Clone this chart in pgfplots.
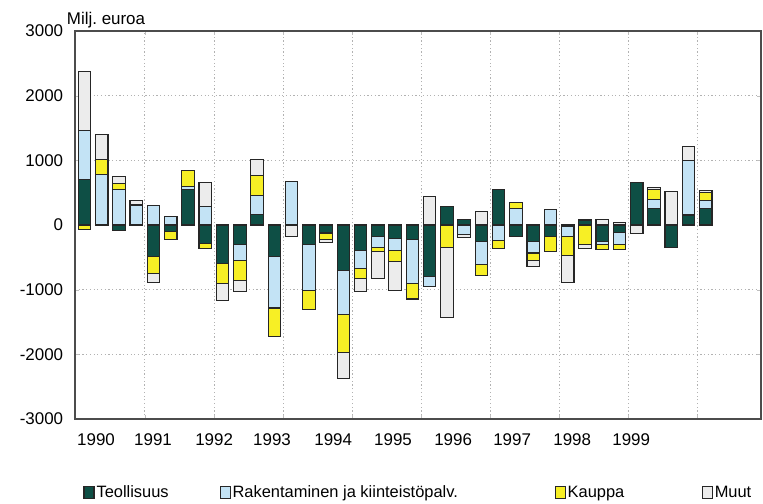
\documentclass[border=0pt]{standalone}
\usepackage{pgfplots}
\pgfplotsset{compat=1.18}
\usepackage{pgfplotstable}
\usepackage{fontspec}
\setmainfont{Liberation Sans}

\definecolor{TeolColor}{HTML}{0E4F45}
\definecolor{RakColor}{HTML}{C3E3F5}
\definecolor{KauColor}{HTML}{F7EF25}
\definecolor{MuutColor}{HTML}{ECECEC}

% quarterly change, 1990Q1 .. 1999Q1 (milj. euroa)
\pgfplotstableread{
q  T    R    K    M
0  700  760  -65  910
1  0    775  240  385
2  -85  555  85   105
3  0    310  0    65
4  -487 308  -257 -143
5  -100 130  -130 0
6  554  46   246  0
7  -292 282  -78  375
8  -590 0    -318 -257
9  -298 -256 -308 -164
10 169  293  308  241
11 -487 -796 -436 0
12 0    677  0    -180
13 -298 -718 -292 0
14 -110 -20  -100 -40
15 -708 -677 -590 -395
16 -400 -267 -154 -205
17 -180 -169 -61  -411
18 -205 -190 -169 -452
19 -231 -667 -246 0
20 -795 -154 0    436
21 292  0    -344 -1092
22 90   -150 0    -50
23 -256 -360 -169 205
24 550  -240 -120 0
25 -173 250  100  0
26 -253 -180 -114 -93
27 -180 240  -232 0
28 -30  -150 -290 -420
29 77   0    -308 -60
30 -250 -50  -80  90
31 -120 -180 -80  40
32 657  0    0    -125
33 250  145  160  30
34 -349 0    0    513
35 155  845  0    220
36 250  129  120  41
}\quarters

\pgfplotsset{
  common/.style={
    scale only axis, width=686bp, height=388bp,
    at={(75bp,85bp)}, anchor=south west,
    xmin=-0.55, xmax=39.2, ymin=-3000, ymax=3000,
  },
  bars/.style={
    ybar stacked, bar width=12.5bp,
    every axis plot/.append style={draw=black!85, line width=1.1bp},
  },
}

\begin{document}
\frenchspacing
\fontsize{17}{20}\selectfont
\begin{tikzpicture}
\path[use as bounding box] (0,0) rectangle (763bp,504bp);

% dotted grid only
\begin{axis}[common,
    axis line style={draw=none},
    xtick={3.5,7.5,...,35.5}, ytick={-2000,-1000,1000,2000},
    xticklabels={}, yticklabels={},
    grid=major,
    tick style={gray!50},
    major grid style={gray!60, line width=0.8bp, dash pattern=on 1.2bp off 2.5bp},
  ]
  \addplot[draw=none, mark=none] coordinates {(0,0) (1,0)};
\end{axis}

% positive parts, frame, labels
\begin{axis}[common, bars, clip=false,
    axis line style={black!70, line width=1.3bp},
    ytick={-3000,-2000,...,3000},
    yticklabels={-3000,-2000,-1000,0,1000,2000,3000},
    yticklabel style={xshift=-6bp},
    xtick={0.67,3.97,7.51,10.87,14.41,17.88,21.36,24.78,28.26,31.68},
    xticklabels={1990,1991,1992,1993,1994,1995,1996,1997,1998,1999},
    xticklabel style={yshift=-9bp},
    major tick length=0pt,
    legend style={at={(0.012,-0.19)}, anchor=west, draw=none, fill=none,
      legend columns=-1, inner sep=0pt, font=\fontsize{16.5}{19}\selectfont,
      /tikz/every even column/.style={column sep=0pt}},
    legend image code/.code={\draw[#1] (0bp,-6bp) rectangle (10bp,6bp);},
  ]
  \addplot[fill=TeolColor] table[x=q, y expr={max(\thisrow{T},0)}] {\quarters};
  \addplot[fill=RakColor]  table[x=q, y expr={max(\thisrow{R},0)}] {\quarters};
  \addplot[fill=KauColor]  table[x=q, y expr={max(\thisrow{K},0)}] {\quarters};
  \addplot[fill=MuutColor] table[x=q, y expr={max(\thisrow{M},0)}] {\quarters};
  \legend{\makebox[121bp][l]{Teollisuus},
          \makebox[320bp][l]{Rakentaminen ja kiinteistöpalv.},
          \makebox[132bp][l]{Kauppa},
          Muut}
  \node[anchor=base west, inner sep=0pt] at (rel axis cs:-0.012,1) [yshift=7bp] {Milj. euroa};
\end{axis}

% negative parts
\begin{axis}[common, bars, hide axis]
  \addplot[fill=TeolColor] table[x=q, y expr={min(\thisrow{T},0)}] {\quarters};
  \addplot[fill=RakColor]  table[x=q, y expr={min(\thisrow{R},0)}] {\quarters};
  \addplot[fill=KauColor]  table[x=q, y expr={min(\thisrow{K},0)}] {\quarters};
  \addplot[fill=MuutColor] table[x=q, y expr={min(\thisrow{M},0)}] {\quarters};
\end{axis}
\end{tikzpicture}
\end{document}
